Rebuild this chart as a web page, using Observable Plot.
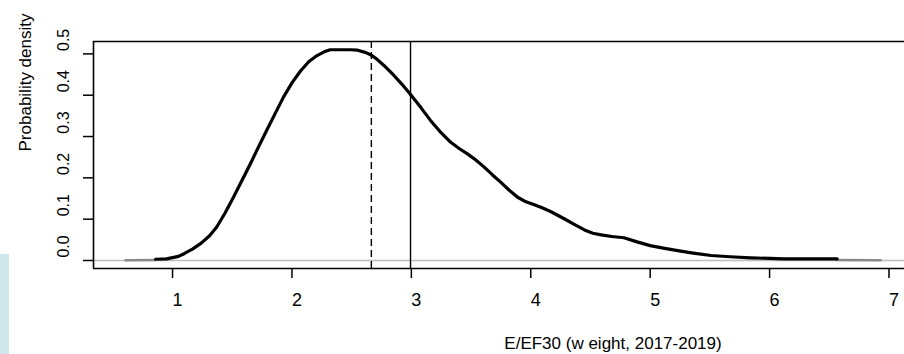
<!DOCTYPE html>
<html><head><meta charset="utf-8">
<script src="https://cdn.jsdelivr.net/npm/d3@7"></script>
<script src="https://cdn.jsdelivr.net/npm/@observablehq/plot@0.6"></script>
<style>
html,body{margin:0;padding:0;background:#fff;}
#wrap{position:relative;width:904px;height:354px;overflow:hidden;}
#blue{position:absolute;left:0;top:254px;width:9px;height:100px;background:#cfe7eb;z-index:2;}
</style></head><body><div id="wrap"><div id="blue"></div></div>
<script>
// density curve (black part)
const densX = [0.858, 0.95, 1.05, 1.10, 1.17, 1.24, 1.31, 1.37, 1.44, 1.51, 1.58, 1.65, 1.72, 1.79, 1.86, 1.93, 2.00, 2.07, 2.14, 2.21, 2.27, 2.32, 2.40, 2.49, 2.55, 2.62, 2.67, 2.72, 2.77, 2.85, 2.92, 2.99, 3.08, 3.16, 3.24, 3.33, 3.40, 3.47, 3.54, 3.61, 3.68, 3.75, 3.82, 3.89, 3.96, 4.03, 4.10, 4.17, 4.28, 4.36, 4.45, 4.52, 4.59, 4.68, 4.78, 4.89, 5.00, 5.11, 5.23, 5.36, 5.51, 5.67, 5.84, 6.00, 6.12, 6.30, 6.566];
const densY = [0.003, 0.004, 0.010, 0.017, 0.028, 0.042, 0.060, 0.081, 0.115, 0.153, 0.193, 0.233, 0.275, 0.316, 0.356, 0.396, 0.430, 0.458, 0.481, 0.496, 0.505, 0.510, 0.510, 0.510, 0.509, 0.503, 0.496, 0.485, 0.472, 0.449, 0.427, 0.403, 0.370, 0.339, 0.312, 0.286, 0.271, 0.258, 0.243, 0.226, 0.207, 0.189, 0.170, 0.153, 0.142, 0.135, 0.127, 0.118, 0.101, 0.088, 0.074, 0.066, 0.062, 0.058, 0.055, 0.045, 0.036, 0.030, 0.024, 0.018, 0.012, 0.009, 0.0065, 0.005, 0.004, 0.004, 0.004];
// grey tails
const leftTailX = [0.606, 0.858];
const leftTailY = [0.0005, 0.001];
const rightTailX = [6.566, 6.93];
const rightTailY = [0.001, 0.0005];
// reference lines
const dashedX = [2.665];
const solidX = [2.993];
const xTicks = [1, 2, 3, 4, 5, 6, 7];
const yTicks = [0, 0.1, 0.2, 0.3, 0.4, 0.5];
const yTickLabels = ["0.0", "0.1", "0.2", "0.3", "0.4", "0.5"];
const xDomain = [0.338, 7.13];
const yDomain = [-0.0194, 0.530];
const xTitle = "E/EF30 (w eight, 2017-2019)";
const yTitle = "Probability density";

const curve = densX.map((x, i) => ({x, y: densY[i]}));
const lt = leftTailX.map((x, i) => ({x, y: leftTailY[i]}));
const rt = rightTailX.map((x, i) => ({x, y: rightTailY[i]}));

const plot = Plot.plot({
  width: 904,
  height: 354,
  marginLeft: 93,
  marginRight: 0,
  marginTop: 41,
  marginBottom: 86,
  style: {fontFamily: "'Liberation Sans', Arial, sans-serif", fontSize: "17px", color: "#000", background: "transparent"},
  x: {domain: xDomain},
  y: {domain: yDomain},
  marks: [
    Plot.ruleY([0], {stroke: "#bdbdbd", strokeWidth: 1.3}),
    Plot.line(lt, {x: "x", y: "y", stroke: "#8a8a8a", strokeWidth: 2.6}),
    Plot.line(rt, {x: "x", y: "y", stroke: "#8a8a8a", strokeWidth: 2.6}),
    Plot.line(curve, {x: "x", y: "y", stroke: "#000", strokeWidth: 3.2, curve: "linear"}),
    Plot.ruleX(dashedX, {stroke: "#000", strokeWidth: 1.4, strokeDasharray: "7,4"}),
    Plot.ruleX(solidX, {stroke: "#000", strokeWidth: 1.4}),
    Plot.ruleY([yDomain[1]], {stroke: "#000", strokeWidth: 1.6}),
    Plot.ruleY([yDomain[0]], {stroke: "#000", strokeWidth: 1.6}),
    Plot.ruleX([xDomain[0]], {stroke: "#000", strokeWidth: 1.6}),
    // tick marks only
    Plot.axisX({ticks: xTicks, tickSize: 10, tickFormat: () => "", label: null, strokeWidth: 1.5}),
    Plot.axisY({ticks: yTicks, tickSize: 10, tickFormat: () => "", label: null, strokeWidth: 1.5}),
    // tick labels only (offset as in the reference)
    Plot.axisX({ticks: xTicks, tickSize: 0, tickPadding: 25, tickFormat: d => String(d), label: null, fontSize: 18, dx: 5}),
    Plot.axisY({ticks: yTicks, tickSize: 0, tickPadding: 25, tickRotate: -90, tickFormat: (d, i) => yTickLabels[i], label: null, fontSize: 16, dy: -14}),
    Plot.text([xTitle], {frameAnchor: "bottom", textAnchor: "middle", lineAnchor: "middle", dx: 114, dy: 75, fontSize: 17, text: d => d}),
    Plot.text([yTitle], {frameAnchor: "top-left", textAnchor: "middle", lineAnchor: "middle", dx: -68, dy: 41, rotate: -90, fontSize: 17, text: d => d})
  ]
});
document.getElementById("wrap").appendChild(plot);
</script>
</body></html>
